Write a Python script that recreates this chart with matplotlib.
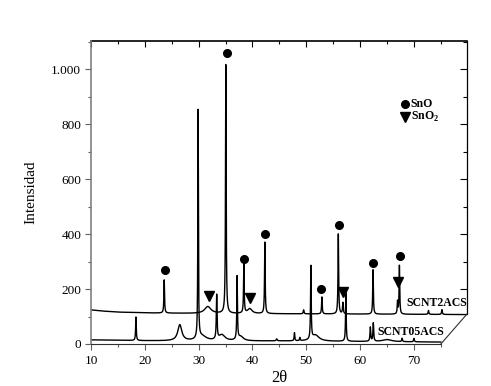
import numpy as np
import matplotlib
matplotlib.use("Agg")
import matplotlib.pyplot as plt
from matplotlib.ticker import FuncFormatter, MultipleLocator, FixedLocator

plt.rcParams['font.family'] = ['Liberation Serif', 'DejaVu Serif']
plt.rcParams['mathtext.fontset'] = 'custom'
plt.rcParams['mathtext.rm'] = 'Liberation Serif'
plt.rcParams['mathtext.bf'] = 'Liberation Serif:bold'

# ---------------- data ----------------
# front pattern SCNT05ACS: background points and peaks (position, top, half-width)
front_bg_x = [10, 20, 30, 45, 60, 75]
front_bg_y = [15, 12, 10, 11, 9, 7]
front_pos = [18.35, 26.5, 29.9, 30.6, 33.35, 34.3, 37.15, 37.8, 44.5, 47.8, 48.8,
             50.85, 51.7, 57.35, 61.9, 62.45, 65.0, 67.8, 70.0]
front_top = [98, 69, 840, 28, 171, 32, 240, 26, 18, 40, 22,
             276, 32, 185, 60, 75, 16, 20, 20]
front_hw = [0.07, 0.45, 0.06, 1.0, 0.08, 0.7, 0.07, 0.6, 0.1, 0.07, 0.07,
            0.07, 0.8, 0.07, 0.08, 0.08, 1.0, 0.08, 0.08]

# back pattern SCNT2ACS (drawn offset)
back_bg_x = [10, 12, 15, 21, 30, 45, 70, 80]
back_bg_y = [124, 120, 116, 113, 111, 110, 108, 107]
back_pos = [23.6, 31.7, 35.05, 38.4, 39.5, 42.3, 49.5, 52.9, 55.95, 56.8,
            62.4, 66.95, 67.3, 72.7, 75.2]
back_top = [233, 136, 1015, 290, 128, 370, 124, 171, 400, 150,
            270, 153, 285, 122, 125]
back_hw = [0.07, 0.7, 0.07, 0.07, 0.5, 0.07, 0.08, 0.07, 0.07, 0.08,
           0.07, 0.07, 0.07, 0.08, 0.08]

# phase markers
sno_x = [23.75, 35.3, 38.4, 42.3, 52.75, 56.1, 62.4, 67.4]
sno_y = [269, 1058, 309, 400, 200, 433, 295, 320]
sno2_x = [31.9, 39.55, 56.85, 66.95]
sno2_y = [175, 167, 189, 225]

series_labels = ["SCNT2ACS", "SCNT05ACS"]
legend_labels = ["SnO", r"SnO$_\mathbf{2}$"]
xticks = [10, 20, 30, 40, 50, 60, 70]
yticks = [0, 200, 400, 600, 800, 1000]


def pattern(x, bgx, bgy, pos, top, hw):
    base = np.interp(x, bgx, bgy)
    y = base.copy()
    for p, t, w in zip(pos, top, hw):
        amp = t - np.interp(p, bgx, bgy)
        y += amp * w**2 / ((x - p)**2 + w**2)
    return y


xf = np.arange(10, 75.0001, 0.01)
yf = pattern(xf, front_bg_x, front_bg_y, front_pos, front_top, front_hw)
xb = np.arange(10, 79.8, 0.01)
yb = pattern(xb, back_bg_x, back_bg_y, back_pos, back_top, back_hw)

# ---------------- figure ----------------
fig = plt.figure(figsize=(4.91, 3.86), dpi=100)
ax = fig.add_axes([91/491, 1-344/386, (467-91)/491, (344-41)/386])
XMAX = 10 + (467-91.3)/5.378
YMAX = 1102
ax.set_xlim(10, XMAX)
ax.set_ylim(0, YMAX)

ax.plot(xf, yf, color='black', lw=1.0)
ax.plot(xb, yb, color='black', lw=1.0)

ax.plot(sno_x, sno_y, 'o', color='black', ms=5.5, ls='none')
ax.plot(sno2_x, sno2_y, 'v', color='black', ms=6.5, ls='none')

# legend
ax.plot([68.3], [873], 'o', color='black', ms=5.5)
ax.plot([68.3], [826], 'v', color='black', ms=6.5)
ax.text(69.4, 873, legend_labels[0], fontsize=8.5, fontweight='bold', va='center', ha='left')
ax.text(69.4, 826, legend_labels[1], fontsize=8.5, fontweight='bold', va='center', ha='left')

# series labels
ax.text(68.6, 149, series_labels[0], fontsize=8.5, fontweight='bold', va='center', ha='left')
ax.text(63.3, 44, series_labels[1], fontsize=8.5, fontweight='bold', va='center', ha='left')

# spines / frame
ax.spines['right'].set_visible(False)
ax.spines['top'].set_visible(False)
ax.spines['left'].set_color('#808080')
ax.spines['left'].set_linewidth(1.2)
ax.spines['bottom'].set_bounds(10, 75)
ax.spines['bottom'].set_color('#303030')
ax.plot([75, XMAX], [0, 109], color='#303030', lw=0.8, clip_on=False)

ax.set_xticks(xticks)
ax.xaxis.set_minor_locator(MultipleLocator(5))
ax.set_yticks(yticks)
ax.yaxis.set_minor_locator(FixedLocator([100, 300, 500, 700, 900, 1100]))
ax.yaxis.set_major_formatter(FuncFormatter(lambda v, p: f"{v:,.0f}".replace(',', '.')))
ax.tick_params(axis='both', which='major', direction='out', length=4, width=0.8,
               labelsize=9.5, color='#606060')
ax.tick_params(axis='both', which='minor', direction='out', length=2.5, width=0.8, color='#606060')
ax.tick_params(axis='y', pad=3)
ax.tick_params(axis='x', pad=4)

# top axis
top = ax.secondary_xaxis('top')
top.set_xticks(xticks)
top.xaxis.set_minor_locator(MultipleLocator(5))
top.tick_params(which='major', direction='in', length=4, width=0.8, labeltop=False)
top.tick_params(which='minor', direction='in', length=2.5, width=0.8)
top.spines['top'].set_linewidth(1.2)

# right axis
right = ax.secondary_yaxis('right')
right.set_yticks([200, 400, 600, 800, 1000])
right.yaxis.set_minor_locator(FixedLocator([300, 500, 700, 900, 1100]))
right.tick_params(which='major', direction='in', length=5, width=0.8, labelright=False)
right.tick_params(which='minor', direction='in', length=3, width=0.8)
right.spines['right'].set_bounds(109, YMAX)
right.spines['right'].set_linewidth(0.9)

ax.set_xlabel('2θ', fontsize=12, labelpad=2)
ax.set_ylabel('Intensidad', fontsize=11, labelpad=10)

fig.savefig('out.png', dpi=100)
